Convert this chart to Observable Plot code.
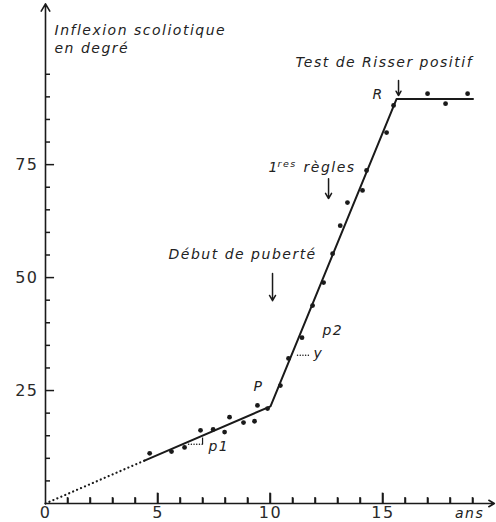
<!DOCTYPE html>
<html>
<head>
<meta charset="utf-8">
<script src="https://cdn.jsdelivr.net/npm/d3@7"></script>
<script src="https://cdn.jsdelivr.net/npm/@observablehq/plot@0.6"></script>
<style>
  html, body { margin: 0; padding: 0; background: #fff; }
  #chart svg { display: block; }
</style>
</head>
<body>
<div id="chart"></div>
<script>
// Observations: age (years) and scoliotic angle (degrees)
const ages   = [4.63, 5.6, 6.18, 6.89, 7.45, 7.96, 8.18, 8.8, 9.29, 9.42, 9.87,
                10.44, 10.8, 11.4, 11.87, 12.36, 12.76, 13.1, 13.42, 14.09, 14.27, 15.16, 15.47,
                16.98, 17.78, 18.76];
const angles = [11.1, 11.5, 12.4, 16.2, 16.4, 15.8, 19.1, 17.9, 18.2, 21.7, 21.0,
                26.1, 32.1, 36.7, 43.8, 48.9, 55.3, 61.5, 66.6, 69.3, 73.7, 82.1, 88.1,
                90.7, 88.5, 90.7];

// Fitted broken line (p1, P, p2, R, plateau) and its backward extrapolation
const trendAges   = [4.4, 10, 15.6, 19.0];
const trendAngles = [9.5, 21.5, 89.5, 89.5];
const extraAges   = [0, 4.4];
const extraAngles = [0, 9.5];

// Ticks
const xLabelTicks = [0, 5, 10, 15];
const xMajorTicks = [5, 10, 15];
const xMinorTicks = [1, 2, 3, 4, 6, 7, 8, 9, 11, 12, 13, 14, 16, 17, 18, 19];
const yLabelTicks = [25, 50, 75];
const yMinorTicks = [5, 10, 15, 20, 30, 35, 40, 45, 55, 60, 65, 70, 80, 85, 90, 95];

// Annotation texts
const labelTexts = ["Inflexion scoliotique\nen degré", "Test de Risser positif", "R",
                    "1", "règles", "Début de puberté", "P", "p2", "y", "p1", "ans"];
const labelAges   = [0.4, 11.11, 14.53, 9.91, 11.47, 5.47, 9.24, 12.31, 11.91, 7.24, 18.2];
const labelAngles = [99.8, 96.5, 89.6, 73.3, 73.3, 54.2, 25.0, 37.4, 32.3, 11.7, -3.3];

// Event arrows (Risser, 1res règles, puberté)
const arrowAges = [15.69, 12.58, 10.09];
const arrowFrom = [93.6, 71.9, 50.9];
const arrowTo   = [90.3, 67.5, 44.9];

const points = ages.map((a, i) => ({age: a, angle: angles[i]}));
const trend = trendAges.map((a, i) => ({age: a, angle: trendAngles[i]}));
const extra = extraAges.map((a, i) => ({age: a, angle: extraAngles[i]}));
const labels = labelTexts.map((t, i) => ({text: t, age: labelAges[i], angle: labelAngles[i]}));
const arrows = arrowAges.map((a, i) => ({age: a, from: arrowFrom[i], to: arrowTo[i]}));
const xTickRows = xMinorTicks.map(v => ({v, lo: 0, hi: 1.3}))
  .concat(xMajorTicks.map(v => ({v, lo: 0, hi: 2.3})));
const yTickRows = yMinorTicks.map(v => ({v, len: 0.2})).concat(yLabelTicks.map(v => ({v, len: 0.38})));

const ink = "#1a1a1a";
const plot = Plot.plot({
  width: 496,
  height: 522,
  marginLeft: 45,
  marginRight: 1,
  marginTop: 6,
  marginBottom: 19,
  x: {domain: [0, 20], axis: null},
  y: {domain: [0, 110], axis: null},
  style: {fontFamily: "DejaVu Sans", background: "#fff"},
  marks: [
    // axes lines with arrowheads
    Plot.arrow([0], {x1: 0, y1: 0, x2: 0, y2: 110.6, stroke: ink, strokeWidth: 1.6, headLength: 8}),
    Plot.arrow([0], {x1: 0, y1: 0, x2: 19.95, y2: 0, stroke: ink, strokeWidth: 1.6, headLength: 6}),
    // tick labels
    Plot.axisX({ticks: xLabelTicks, tickSize: 0, tickPadding: 3, fontSize: 16, label: null, fill: "#2a2a2a"}),
    Plot.axisY({ticks: yLabelTicks, tickSize: 0, tickPadding: 7, fontSize: 16, label: null, fill: "#2a2a2a"}),
    // fitted lines
    Plot.line(extra, {x: "age", y: "angle", stroke: ink, strokeWidth: 2.2, strokeDasharray: "0.1,4.2", strokeLinecap: "round"}),
    Plot.line(trend, {x: "age", y: "angle", stroke: ink, strokeWidth: 2}),
    // small dotted leaders to "p1" and "y"
    Plot.link([0], {x1: 6.36, y1: 13.1, x2: 6.98, y2: 13.1, stroke: ink, strokeWidth: 1.4, strokeDasharray: "0.1,2.6", strokeLinecap: "round"}),
    Plot.link([0], {x1: 6.98, y1: 13.1, x2: 6.98, y2: 14.6, stroke: ink, strokeWidth: 1.2}),
    Plot.link([0], {x1: 11.2, y1: 32.8, x2: 11.69, y2: 32.8, stroke: ink, strokeWidth: 1.4, strokeDasharray: "0.1,2.6", strokeLinecap: "round"}),
    // observations
    Plot.dot(points, {x: "age", y: "angle", r: 2.4, fill: ink, stroke: "none"}),
    // event arrows
    Plot.arrow(arrows, {x1: "age", y1: "from", x2: "age", y2: "to", stroke: ink, strokeWidth: 1.5, headLength: 6}),
    // annotations
    Plot.text(labels, {x: "age", y: "angle", text: "text", textAnchor: "start", lineAnchor: "bottom",
      fontSize: 14, fontStyle: "italic", lineHeight: 1.29, fill: "#222"}),
    Plot.text(["res"], {x: 10.31, y: 74.4, text: d => d, textAnchor: "start", lineAnchor: "bottom",
      fontSize: 9.5, fontStyle: "italic", fill: "#222"}),
    // inward ticks, drawn last so nothing covers them
    Plot.rect(xTickRows, {x1: d => d.v - 0.035, x2: d => d.v + 0.035, y1: "lo", y2: "hi", fill: ink, inset: 0}),
    Plot.link(xTickRows, {x1: "v", x2: "v", y1: "lo", y2: "hi", stroke: ink, strokeWidth: 1.5}),
    Plot.link(yTickRows, {y1: "v", y2: "v", x1: () => 0, x2: "len", stroke: ink, strokeWidth: 1.5})
  ]
});
plot.style.letterSpacing = "1.5px";
document.getElementById("chart").appendChild(plot);
</script>
</body>
</html>
